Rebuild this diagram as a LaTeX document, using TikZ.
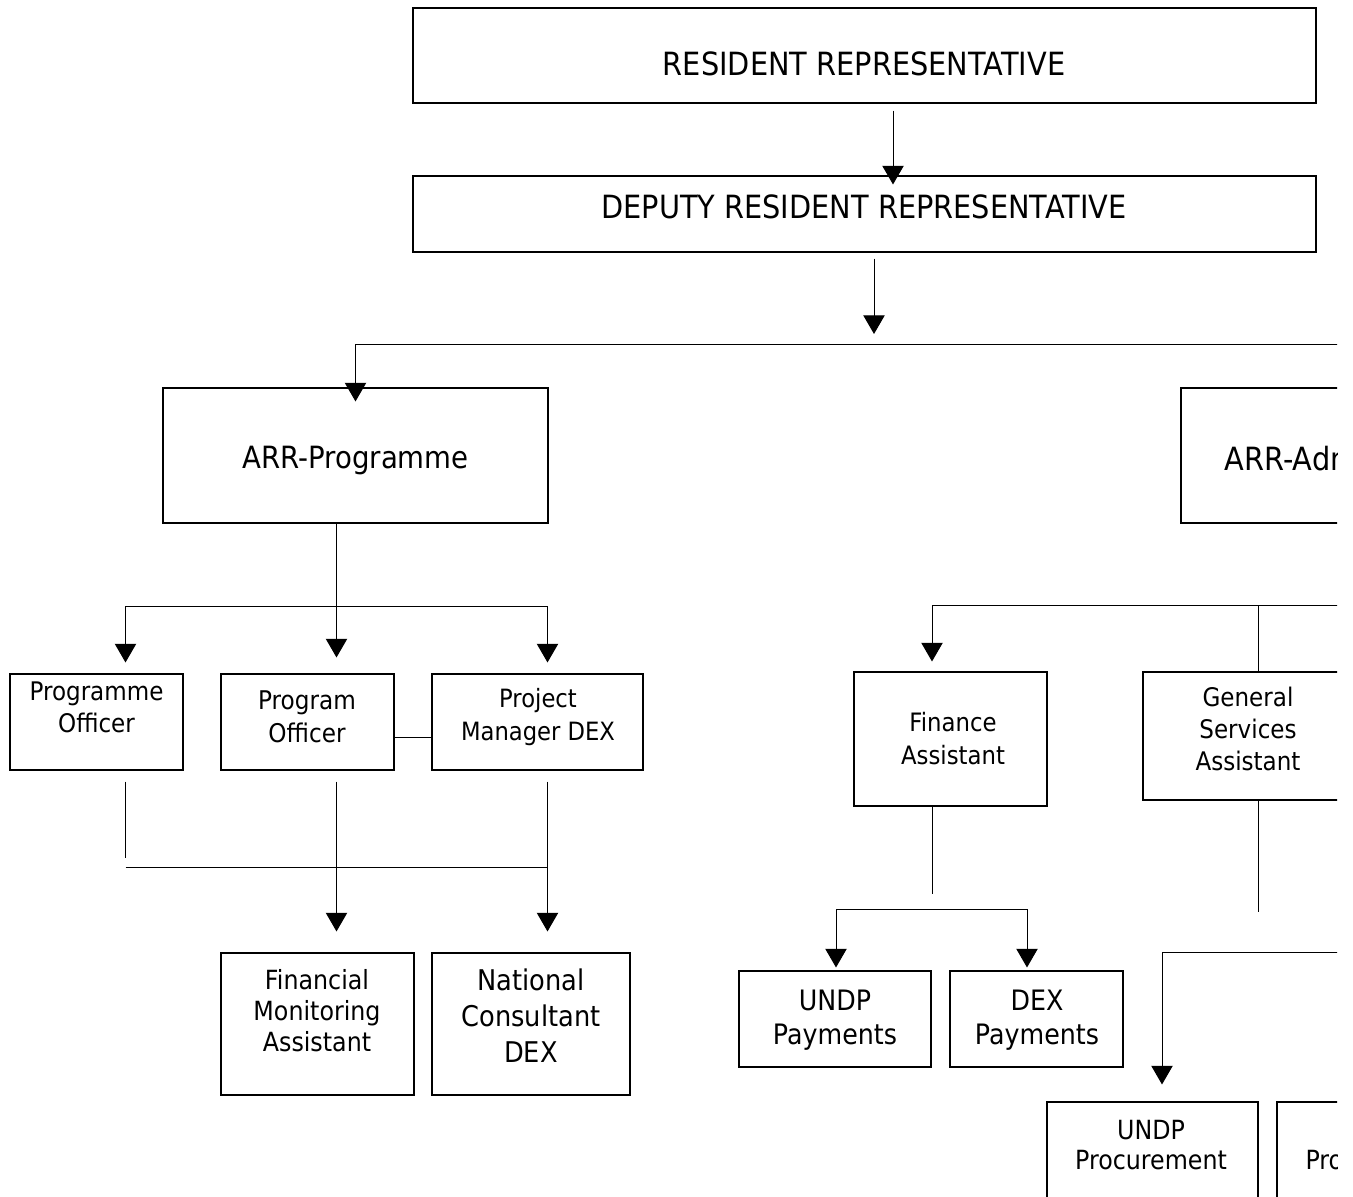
\documentclass[tikz,border=0pt]{standalone}
\usepackage{fontspec}
\setmainfont{DejaVu Sans}[FakeStretch=0.9]
\usetikzlibrary{arrows.meta, calc}
\newdimen\px \px=0.75pt
\newcommand{\fnt}[2]{\fontsize{#1}{#2}\selectfont}
\tikzset{
  orgbox/.style 2 args={draw, line width=0.8pt, inner sep=0pt, minimum width=#1\px, minimum height=#2\px},
  lbl/.style={inner sep=0pt, align=center},
  arr/.style={-{Triangle[width=16pt,length=14pt]}}
}
\begin{document}
\begin{tikzpicture}[x=0.75pt, y=-0.75pt, line width=0.75pt]
        \useasboundingbox (0,0) rectangle (1353,1196);
        \clip (0,0) rectangle (1337,1196);

        % Direction
        \node[orgbox={903}{95}] (rr) at (864.5,55.5) {};
        \node[orgbox={903}{76}] (drr) at (864.5,214) {};
        \node[lbl, font=\fnt{24}{28}, anchor=base] (rr-t) at (864,75) {RESIDENT REPRESENTATIVE};
        \node[lbl, font=\fnt{24}{28}, anchor=base] (drr-t) at (864,218) {DEPUTY RESIDENT REPRESENTATIVE};

        % Adjoints
        \node[orgbox={385}{135}] (arrp) at (355.5,455.5) {};
        \node[orgbox={385}{135}] (arra) at (1373.5,455.5) {};
        \node[lbl, font=\fnt{23}{28}, anchor=base] (arrp-t) at (355.5,468) {ARR-Programme};
        \node[lbl, font=\fnt{24}{28}, anchor=base west] (arra-t) at (1224,470) {ARR-Admin};

        % Programme
        \node[orgbox={173}{96}] (po1) at (96.5,722) {};
        \node[orgbox={173}{96}] (po2) at (307.5,722) {};
        \node[orgbox={211}{96}] (pm) at (537.5,722) {};
        \node[orgbox={193}{142}] (fma) at (317.5,1024) {};
        \node[orgbox={198}{142}] (ncd) at (531,1024) {};
        \node[lbl, font=\fnt{19.2}{24}] (po1-t) at (96.5,707) {Programme\\Officer};
        \node[lbl, font=\fnt{19.3}{25.1}] (po2-t) at (307,717) {Program\\Officer};
        \node[lbl, font=\fnt{18.9}{25.1}] (pm-t) at (538,717) {Project\\Manager DEX};
        \node[lbl, font=\fnt{19.8}{23.25}] (fma-t) at (317,1011) {Financial\\Monitoring\\Assistant};
        \node[lbl, font=\fnt{21.4}{26.9}] (ncd-t) at (531,1016) {National\\Consultant\\DEX};

        % Administration
        \node[orgbox={193}{134}] (fa) at (950.5,739) {};
        \node[orgbox={210}{128}] (gsa) at (1248,736) {};
        \node[orgbox={192}{96}] (up) at (835,1019) {};
        \node[orgbox={173}{96}] (dp) at (1036.5,1019) {};
        \node[orgbox={211}{110}] (upr) at (1152.5,1157) {};
        \node[orgbox={211}{110}] (dpr) at (1382.5,1157) {};
        \node[lbl, font=\fnt{19}{24.75}] (fa-t) at (953,738.5) {Finance\\Assistant};
        \node[lbl, font=\fnt{19.2}{24}] (gsa-t) at (1248,729) {General\\Services\\Assistant};
        \node[lbl, font=\fnt{21.1}{25.8}] (up-t) at (835,1020) {UNDP\\Payments};
        \node[lbl, font=\fnt{21.1}{25.8}] (dp-t) at (1037,1020) {DEX\\Payments};
        \node[lbl, font=\fnt{19.8}{22.5}] (upr-t) at (1151,1145.5) {UNDP\\Procurement};
        \node[lbl, font=\fnt{19.8}{22.5}, anchor=base west] (dpr-t) at (1305,1169.3) {Procurement};

        % Liaisons du haut
        \coordinate (bus1) at (874,344);
        \draw[arr] ($(rr.south)+(28.5,7)$) -- ($(drr.north)+(28.5,9)$);
        \draw[arr] ($(drr.south)+(9.5,6)$) -- ($(bus1)+(0,-10)$);
        \draw[arr] (bus1) -| ($(arrp.north)+(0,14)$);
        \draw[arr] (bus1) -| ($(arra.north)+(0,14)$);

        % Liaisons programme
        \coordinate (bus2) at (336.5,606);
        \draw[arr] ($(arrp.south)+(-19,0)$) -- ($(po2.north)+(29,-16)$);
        \draw[arr] (bus2) -| ($(po1.north)+(29,-11)$);
        \draw[arr] (bus2) -| ($(pm.north)+(10,-11)$);
        \draw ($(po2.east)+(0,15)$) -- ($(pm.west)+(0,15)$);
        \coordinate (bus3w) at (125.5,867);
        \coordinate (bus3e) at (547.5,867);
        \draw ($(po1.south)+(29,11)$) -- ($(po1.south)+(29,87)$);
        \draw (bus3w) -- (bus3e);
        \draw[arr] ($(po2.south)+(29,11)$) -- ($(fma.north)+(19,-21)$);
        \draw[arr] ($(pm.south)+(10,11)$) -- ($(ncd.north)+(16.5,-21)$);

        % Liaisons administration
        \coordinate (bus4) at (1258,605);
        \coordinate (bus4e) at (1353,605);
        \draw[arr] (bus4e) -| ($(fa.north)+(-18.5,-10)$);
        \draw (bus4) -- (gsa.north -| bus4);
        \draw ($(fa.south)+(-18.5,0)$) -- ($(fa.south)+(-18.5,87)$);
        \coordinate (bus5w) at (836,909);
        \coordinate (bus5e) at (1027,909);
        \draw[arr] (bus5e) -- (bus5w) -- ($(up.north)+(1,-3)$);
        \draw[arr] (bus5e) -- ($(dp.north)+(-9.5,-3)$);
        \coordinate (bus6) at (1162,952);
        \coordinate (bus6e) at (1353,952);
        \draw (gsa.south -| bus4) -- ($(gsa.south -| bus4)+(0,111)$);
        \draw[arr] (bus6e) -- (bus6) -- ($(upr.north)+(9.5,-17)$);
\end{tikzpicture}
\end{document}
